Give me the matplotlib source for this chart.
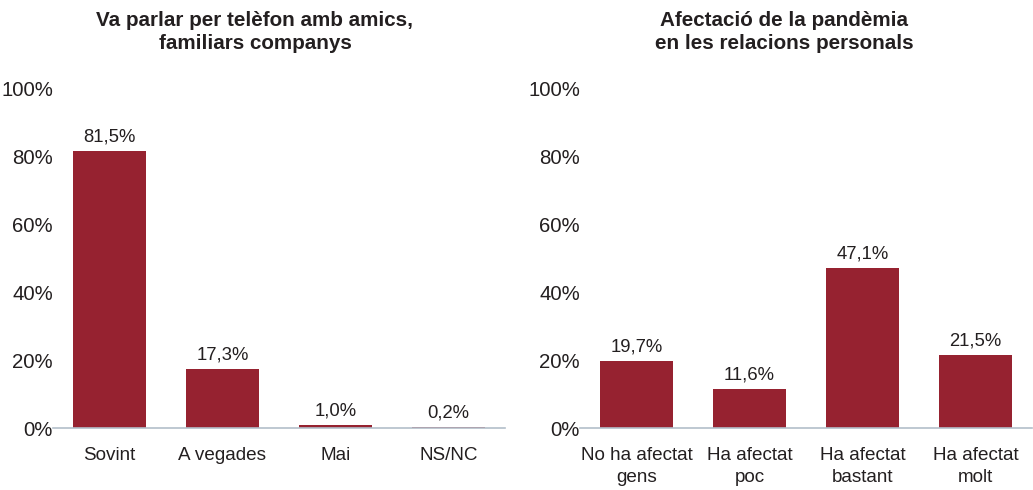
import matplotlib.pyplot as plt

plt.rcParams['font.family'] = ['Liberation Sans', 'DejaVu Sans']

# Data
cats_left = ['Sovint', 'A vegades', 'Mai', 'NS/NC']
vals_left = [81.5, 17.3, 1.0, 0.2]
title_left = 'Va parlar per telèfon amb amics,\nfamiliars companys'

cats_right = ['No ha afectat\ngens', 'Ha afectat\npoc', 'Ha afectat\nbastant', 'Ha afectat\nmolt']
vals_right = [19.7, 11.6, 47.1, 21.5]
title_right = 'Afectació de la pandèmia\nen les relacions personals'

yticks = [0, 20, 40, 60, 80, 100]
bar_color = '#962230'
text_color = '#231f20'

W, H = 1033, 490
fig = plt.figure(figsize=(W / 100, H / 100), dpi=100)
# axes boxes in pixels: left, right, bottom(0%), top(100%)
ax1 = fig.add_axes([53 / W, 1 - 428 / H, 452 / W, 340 / H])
ax2 = fig.add_axes([580 / W, 1 - 428 / H, 452 / W, 340 / H])


def draw(ax, cats, vals, title, title_x):
    x = range(len(cats))
    bars = ax.bar(x, vals, width=0.64, color=bar_color, zorder=2)
    for b, v in zip(bars, vals):
        ax.annotate(f'{v:.1f}%'.replace('.', ','),
                    (b.get_x() + b.get_width() / 2, v),
                    xytext=(0, 4), textcoords='offset points',
                    ha='center', va='bottom', fontsize=13.3, color=text_color)
    ax.set_xlim(-0.5, len(cats) - 0.5)
    ax.set_ylim(0, 100)
    ax.set_yticks(yticks)
    ax.set_yticklabels([f'{t}%' for t in yticks])
    ax.set_xticks(list(x))
    ax.set_xticklabels(cats, linespacing=1.35)
    ax.tick_params(axis='both', length=0, colors=text_color)
    ax.tick_params(axis='x', pad=14, labelsize=13.6)
    ax.tick_params(axis='y', pad=0, labelsize=14.7)
    for s in ['top', 'right', 'left']:
        ax.spines[s].set_visible(False)
    ax.spines['bottom'].set_color('#b3bfca')
    ax.spines['bottom'].set_linewidth(1.2)
    fig.text(title_x / W, 1 - 49 / H, title, fontsize=14.9, fontweight='bold',
             color=text_color, ha='center', va='baseline', linespacing=1.25)


draw(ax1, cats_left, vals_left, title_left, 255)
draw(ax2, cats_right, vals_right, title_right, 784.5)

fig.savefig('out.png', dpi=100)
